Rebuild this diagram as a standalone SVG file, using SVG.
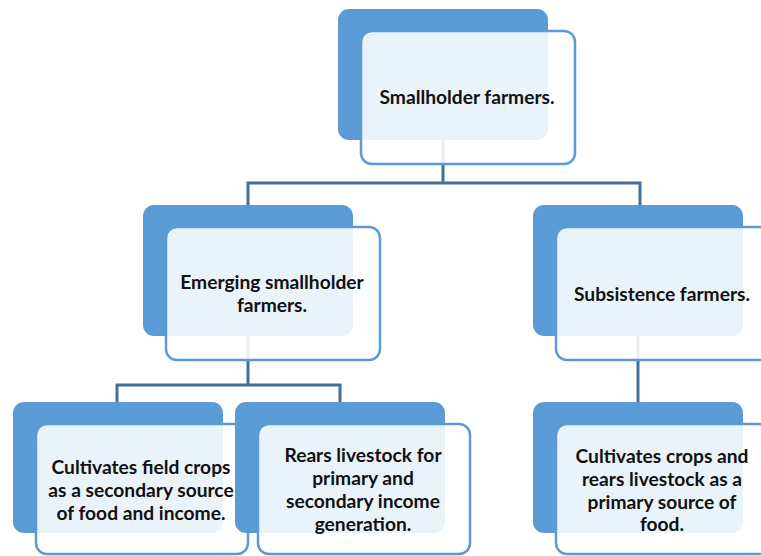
<svg xmlns="http://www.w3.org/2000/svg" width="761" height="556" viewBox="0 0 761 556">
  <style>
    .back { fill: #5b9bd5; }
    .front { fill: #ffffff; fill-opacity: 0.88; stroke: #5b9bd5; stroke-width: 2.5; }
    .link { fill: none; stroke: #41719c; stroke-width: 3; }
    .label { font-family: Lato, "Liberation Sans", sans-serif; font-weight: bold; font-size: 19.2px; fill: #111111; text-anchor: middle; }
  </style>
  <rect width="761" height="556" fill="#ffffff"/>

  <!-- connectors, drawn first so they show faintly through the cards -->
  <g id="connectors">
    <path class="link" d="M443,140 V183 M248,205 V183 H640 V205"/>
    <path class="link" d="M248,335 V385 M117,402 V385 H340 V402"/>
    <path class="link" d="M638,335 V402"/>
  </g>

  <g id="smallholder">
    <rect class="back" x="338" y="9" width="210" height="131" rx="11"/>
    <rect class="front" x="361" y="31" width="214" height="133" rx="11"/>
    <text class="label" x="467" y="104">Smallholder farmers.</text>
  </g>

  <g id="emerging">
    <rect class="back" x="143" y="205" width="210" height="131" rx="11"/>
    <rect class="front" x="166" y="227" width="214" height="133" rx="11"/>
    <text class="label" x="272" y="289">Emerging smallholder</text>
    <text class="label" x="272" y="312">farmers.</text>
  </g>

  <g id="subsistence">
    <rect class="back" x="533" y="205" width="210" height="131" rx="11"/>
    <rect class="front" x="556" y="227" width="214" height="133" rx="11"/>
    <text class="label" x="662" y="301">Subsistence farmers.</text>
  </g>

  <g id="field-crops">
    <rect class="back" x="13" y="402" width="210" height="131" rx="11"/>
    <rect class="front" x="36" y="424" width="212" height="130" rx="11"/>
    <text class="label" x="141" y="474">Cultivates field crops</text>
    <text class="label" x="141" y="497">as a secondary source</text>
    <text class="label" x="141" y="520">of food and income.</text>
  </g>

  <g id="livestock">
    <rect class="back" x="235" y="402" width="210" height="131" rx="11"/>
    <rect class="front" x="258" y="424" width="212" height="130" rx="11"/>
    <text class="label" x="363" y="462">Rears livestock for</text>
    <text class="label" x="363" y="485">primary and</text>
    <text class="label" x="363" y="508">secondary income</text>
    <text class="label" x="363" y="531">generation.</text>
  </g>

  <g id="food">
    <rect class="back" x="533" y="402" width="210" height="131" rx="11"/>
    <rect class="front" x="556" y="424" width="214" height="130" rx="11"/>
    <text class="label" x="662" y="463">Cultivates crops and</text>
    <text class="label" x="662" y="486">rears livestock as a</text>
    <text class="label" x="662" y="509">primary source of</text>
    <text class="label" x="662" y="531">food.</text>
  </g>
</svg>
